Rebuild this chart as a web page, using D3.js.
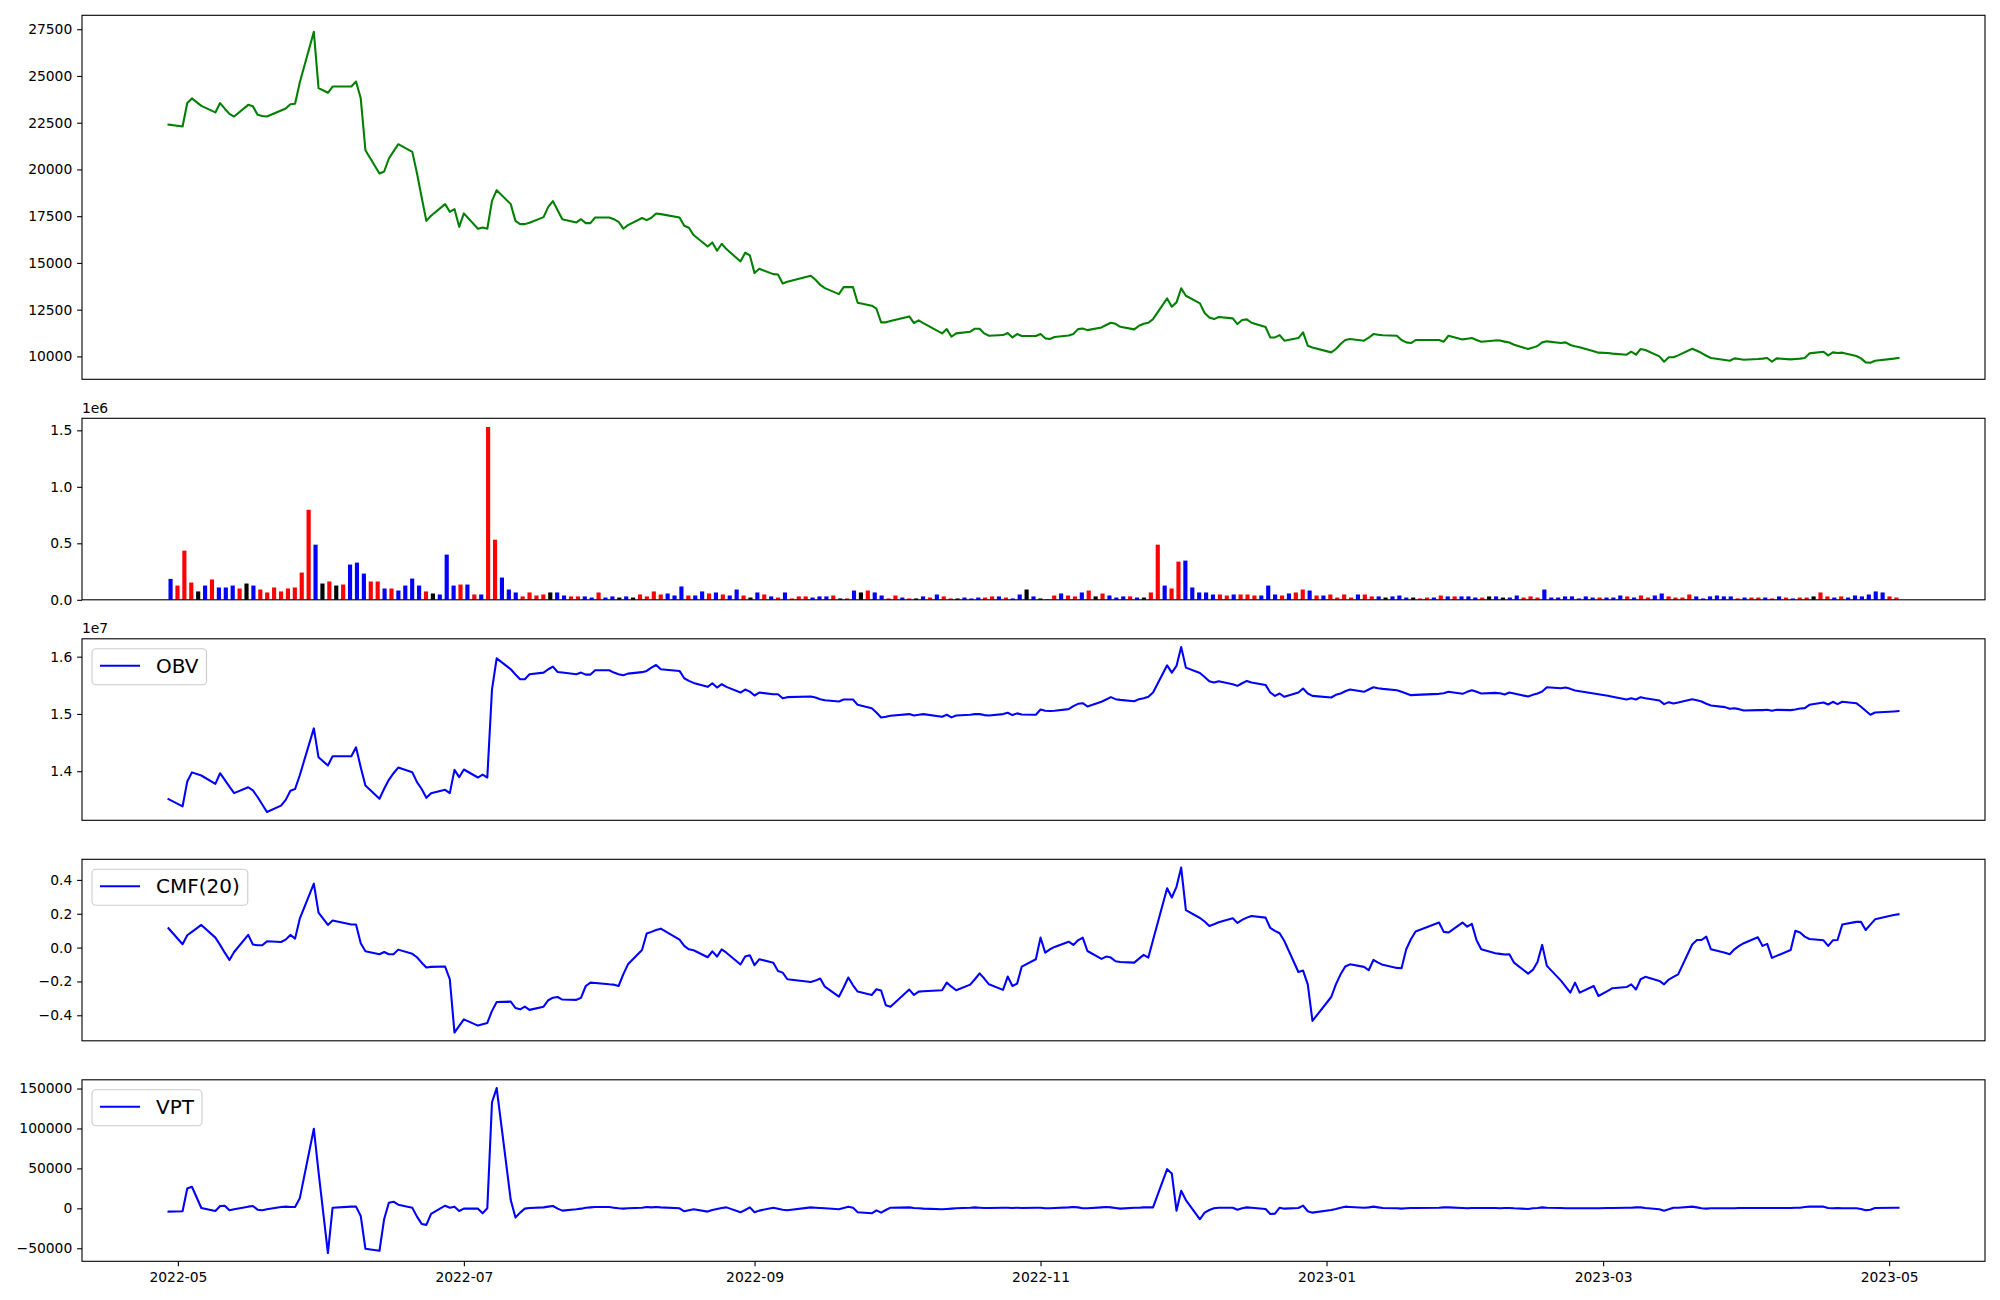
<!DOCTYPE html>
<html><head><meta charset="utf-8">
<script src="https://cdn.jsdelivr.net/npm/d3@7"></script>
<style>body{margin:0;background:#fff}svg{display:block;background:#fff}</style>
</head><body><svg id="chart" width="2000" height="1300"></svg>
<script>
// ---------- data ----------
const startDate = "2022-04-29";
const endDate = "2023-05-03";
const holidays = ["2022-05-05","2022-06-01","2022-06-06","2022-08-15","2022-09-09","2022-09-12",
  "2022-10-03","2022-10-10","2022-12-30","2023-01-23","2023-01-24","2023-03-01","2023-05-01"];

const closePrice = [22400,22300,23550,23800,23400,23050,23550,23250,22970,22830,
23455,23380,22920,22860,22830,23150,23260,23490,23510,24650,
27360,24350,24100,24435,24435,24700,23810,21030,19785,19890,
20585,20970,21350,20940,19800,18500,17250,17520,18145,17735,
17880,16930,17650,16830,16900,16830,18320,18890,18145,17250,
17075,17075,17150,17450,18000,18305,17820,17340,17165,17340,
17130,17130,17430,17430,17340,17200,16830,17020,17400,17290,
17415,17645,17610,17430,16985,16880,16490,15880,16095,15650,
16025,15740,15080,15545,15400,14455,14690,14400,14385,13900,
13990,14310,14100,13830,13650,13330,13705,13705,13705,12870,
12710,12550,11820,11820,11890,12140,11785,11925,11780,11230,
11460,11050,11230,11320,11480,11480,11230,11105,11140,11250,
11015,11195,11090,11090,11195,10965,10930,11035,11120,11195,
11460,11495,11405,11550,11680,11800,11745,11585,11445,11640,
11745,11800,11995,13100,12655,12890,13640,13245,12835,12320,
12085,11995,12105,12035,11730,11945,11980,11800,11570,11015,
11015,11140,10840,10980,11285,10570,10480,10215,10395,10660,
10875,10930,10840,11000,11195,11160,11130,11105,10875,10750,
10715,10875,10875,10785,11105,10910,10945,10980,10875,10785,
10855,10850,10790,10740,10620,10395,10470,10555,10750,10805,
10715,10750,10610,10540,10485,10270,10200,10180,10150,10090,
10250,10090,10395,10340,10000,9715,9950,9950,10055,10410,
10300,10180,10035,9915,9805,9770,9895,9860,9825,9860,
9880,9915,9715,9895,9840,9860,9880,9915,10160,10250,
10055,10215,10180,10200,10020,9895,9680,9660,9770,9880,
9915];

const volume = [185000,126000,435000,153000,74000,126000,180000,109000,109000,126000,
100000,144000,126000,91000,65000,109000,74000,100000,109000,241000,
797000,488000,144000,162000,126000,135000,312000,329000,232000,162000,
162000,100000,100000,82000,126000,188000,126000,74000,56000,47000,
400000,126000,135000,135000,47000,47000,1530000,532000,197000,91000,
65000,30000,65000,38000,47000,65000,65000,38000,30000,30000,
30000,20000,65000,20000,30000,20000,30000,20000,47000,30000,
74000,47000,56000,38000,118000,38000,38000,
74000,56000,65000,47000,38000,91000,38000,20000,65000,47000,
30000,20000,65000,12000,30000,30000,20000,30000,30000,38000,
12000,12000,82000,65000,82000,65000,38000,12000,38000,20000,
12000,12000,30000,20000,47000,30000,12000,12000,20000,12000,
20000,20000,30000,30000,20000,12000,47000,91000,30000,12000,
6000,38000,56000,38000,30000,65000,82000,30000,56000,38000,
20000,30000,30000,20000,20000,65000,488000,126000,100000,338000,
347000,109000,65000,65000,47000,47000,38000,47000,47000,47000,
38000,38000,126000,47000,38000,56000,65000,91000,82000,38000,
38000,47000,20000,47000,20000,
47000,47000,30000,30000,20000,30000,38000,20000,20000,12000,
20000,20000,38000,30000,30000,30000,30000,20000,20000,30000,
30000,20000,20000,38000,20000,30000,20000,91000,20000,20000,
30000,30000,12000,30000,20000,20000,20000,20000,38000,30000,
20000,38000,20000,38000,56000,30000,20000,20000,47000,30000,
12000,30000,38000,30000,30000,12000,20000,20000,20000,20000,
12000,30000,20000,12000,20000,20000,30000,65000,30000,20000,
30000,20000,38000,30000,47000,74000,65000,30000,20000];

// R = close above open (red), B = below (blue), K = unchanged (black)
const volumeDir = ["B","R","R","R","K","B","R","B","B","B",
"R","K","B","R","R","R","R","R","R","R",
"R","B","K","R","K","R","B","B","B","R",
"R","B","R","B","B","B","B","R","K","B",
"B","B","R","B","R","B","R","R","B","B",
"B","R","R","R","R","K","B","B","R","R",
"B","B","R","B","B","K","B","K","R","R",
"R","R","B","B","B","R","B",
"B","R","B","R","B","B","R","K","B","R",
"B","R","B","R","R","R","B","B","B","R",
"K","R","B","K","R","B","B","R","R","B",
"R","K","B","R","B","R","R","K","B","B",
"B","R","R","B","R","B","B","K","B","K",
"R","R","B","R","R","B","R","K","R","B",
"B","B","R","B","K","R","R","B","R","R",
"B","B","B","B","B","R","R","B","R","R",
"R","B","B","B","R","B","R","R","B","R",
"B","R","R","R","R",
"B","R","R","B","K","B","B","B","K","R",
"R","B","R","B","R","B","B","B","R","K",
"B","K","B","B","R","R","R","B","B","B",
"B","B","B","B","B","R","B","B","B","R",
"B","R","R","B","B","R","R","R","R","B",
"B","B","B","B","B","R","B","R","R","B",
"R","B","R","B","R","R","K","R","R","B",
"R","B","B","B","B","B","B","R","R"];

const obv = [13513000,13386000,13820000,13980000,13925000,13780000,13965000,13850000,13730000,13617000,
13720000,13664000,13550000,13420000,13287000,13400000,13500000,13660000,13690000,13930000,
14748000,14243000,14100000,14261000,14261000,14417000,14070000,13750000,13519000,13693000,
13850000,13965000,14064000,13983000,13810000,13690000,13536000,13617000,13675000,13617000,
14023000,13896000,14030000,13890000,13940000,13890000,15430000,15971000,15780000,15690000,
15606000,15606000,15693000,15722000,15780000,15826000,15733000,15722000,15693000,15722000,
15687000,15687000,15762000,15762000,15722000,15693000,15675000,15704000,15730000,15751000,
15809000,15855000,15780000,15751000,15623000,15577000,15542000,15473000,15536000,15461000,
15519000,15473000,15374000,15426000,15390000,15322000,15374000,15345000,15345000,15275000,
15293000,15304000,15287000,15258000,15240000,15217000,15252000,15252000,15252000,15159000,
15101000,15026000,14939000,14951000,14968000,14997000,14974000,14986000,14997000,14951000,
14986000,14940000,14974000,14986000,14997000,14997000,14980000,14974000,14997000,15020000,
14980000,15010000,14990000,14986000,15078000,15055000,15050000,15055000,15084000,15136000,
15177000,15188000,15130000,15212000,15252000,15293000,15258000,15246000,15223000,15258000,
15275000,15299000,15374000,15849000,15722000,15838000,16168000,15809000,15716000,15646000,
15571000,15548000,15571000,15519000,15490000,15536000,15577000,15548000,15507000,15374000,
15316000,15357000,15299000,15374000,15443000,15357000,15316000,15287000,15333000,15357000,
15397000,15426000,15386000,15426000,15467000,15449000,15438000,15414000,15386000,15357000,
15328000,15333000,15351000,15362000,15386000,15351000,15386000,15414000,15386000,15357000,
15368000,15362000,15339000,15374000,15357000,15304000,15333000,15357000,15391000,15467000,
15449000,15461000,15438000,15409000,15397000,15357000,15345000,15316000,15299000,15252000,
15275000,15252000,15293000,15275000,15235000,15171000,15206000,15183000,15200000,15258000,
15240000,15217000,15177000,15148000,15119000,15090000,15101000,15084000,15061000,15067000,
15067000,15072000,15055000,15072000,15067000,15078000,15096000,15101000,15159000,15200000,
15165000,15212000,15171000,15212000,15188000,15125000,15055000,14986000,15026000,15043000,
15049000];

const cmf = [0.114,0.020,0.073,0.093,0.134,0.059,0.016,-0.030,-0.073,-0.026,
0.075,0.018,0.014,0.014,0.037,0.033,0.047,0.075,0.053,0.171,
0.378,0.207,0.134,0.160,0.136,0.136,0.026,-0.022,-0.039,-0.026,
-0.039,-0.039,-0.012,-0.037,-0.057,-0.089,-0.118,-0.114,-0.112,-0.187,
-0.502,-0.463,-0.424,-0.461,-0.453,-0.445,-0.374,-0.321,-0.319,-0.357,
-0.365,-0.349,-0.368,-0.349,-0.311,-0.296,-0.292,-0.307,-0.309,-0.296,
-0.227,-0.207,-0.209,-0.217,-0.219,-0.227,-0.158,-0.099,-0.014,0.083,
0.093,0.104,0.112,0.047,0.010,-0.010,-0.016,-0.057,-0.022,-0.053,
-0.010,-0.030,-0.100,-0.053,-0.045,-0.104,-0.069,-0.089,-0.138,-0.148,
-0.187,-0.203,-0.195,-0.183,-0.231,-0.290,-0.236,-0.177,-0.223,-0.260,
-0.280,-0.246,-0.254,-0.341,-0.349,-0.248,-0.280,-0.260,-0.258,-0.252,
-0.207,-0.231,-0.252,-0.219,-0.187,-0.152,-0.183,-0.217,-0.250,-0.171,
-0.227,-0.213,-0.112,-0.069,0.059,-0.030,-0.010,0.004,0.035,0.016,
0.043,0.059,-0.020,-0.067,-0.053,-0.059,-0.081,-0.085,-0.089,-0.065,
-0.043,-0.059,0.045,0.351,0.296,0.359,0.473,0.221,0.175,0.154,
0.128,0.138,0.150,0.173,0.146,0.164,0.177,0.187,0.177,0.116,
0.099,0.085,0.039,-0.144,-0.136,-0.217,-0.433,-0.292,-0.217,-0.158,
-0.112,-0.099,-0.114,-0.134,-0.073,-0.089,-0.102,-0.120,-0.122,-0.010,
0.049,0.095,0.148,0.093,0.089,0.148,0.124,0.140,0.043,-0.010,
-0.033,-0.037,-0.041,-0.039,-0.089,-0.154,-0.132,-0.085,0.016,-0.108,
-0.195,-0.231,-0.266,-0.207,-0.266,-0.227,-0.286,-0.256,-0.240,-0.233,
-0.217,-0.248,-0.187,-0.173,-0.197,-0.217,-0.189,-0.173,-0.158,0.018,
0.045,0.045,0.065,-0.010,-0.030,-0.039,-0.010,0.010,0.026,0.061,
0.010,0.022,-0.061,-0.049,-0.014,0.099,0.089,0.065,0.051,0.043,
0.010,0.043,0.045,0.136,0.152,0.152,0.104,0.136,0.167,0.193,
0.197];

const vpt = [-4150,-3700,24900,27000,400,-3300,2900,3300,-2500,-1200,
2100,2900,-1700,-2500,-1200,1700,2100,1700,1700,12500,
99600,45600,-56000,800,2100,2100,-9500,-50600,-53100,-13300,
7000,8300,4600,800,-10400,-19500,-20700,-7000,3300,800,
2100,-3300,-400,-400,-6200,0,132800,150600,10400,-11600,
-5400,-400,400,1200,2100,2900,-400,-2900,-1200,-400,
800,1200,1700,1700,800,0,-400,0,800,1700,
1200,1700,1200,0,-3700,-2500,-1200,-4100,-2100,-800,
400,1200,-5000,-2100,1200,-5000,-2900,800,-400,-1700,
-2500,1200,800,400,0,-1200,400,2100,800,-5000,
-6200,-2500,-5400,-2100,800,1200,400,0,-400,-1200,
-800,-400,0,800,1200,800,400,400,800,800,
400,800,400,800,800,0,0,400,1200,1700,
1200,0,0,1200,1700,1200,400,-400,800,800,
1200,1200,1200,49000,43600,-2900,22000,10400,-13700,-5400,
-2100,0,800,800,-1700,0,1200,800,-800,-7000,
-6600,800,-400,400,3300,-3700,-5400,-2100,-800,800,
2100,1700,800,1200,2100,1200,400,0,-400,0,
400,400,800,1200,1200,400,0,400,400,400,
400,0,400,400,0,-800,0,400,1200,800,
400,0,0,0,0,0,0,400,400,800,
800,1200,1200,400,-1200,-2900,-1200,800,800,2100,
1200,0,-400,0,0,0,0,400,400,400,
400,400,400,400,400,800,800,1700,2100,2100,
400,0,400,0,0,-800,-2500,-1700,400,800,
800];

const xTickLabels = ["2022-05","2022-07","2022-09","2022-11","2023-01","2023-03","2023-05"];
const priceTicks = [10000,12500,15000,17500,20000,22500,25000,27500];
const volumeTicks = [0,500000,1000000,1500000];
const obvTicks = [14000000,15000000,16000000];
const cmfTicks = [-0.4,-0.2,0,0.2,0.4];
const vptTicks = [-50000,0,50000,100000,150000];

// ---------- layout ----------
const FONT = "DejaVu Sans";
const TICKFS = 13.89;
const L = 82, R = 1985;
const panels = [
  {top:15.3, bottom:379.3},
  {top:418.3, bottom:599.8},
  {top:638.8, bottom:820.3},
  {top:859.3, bottom:1040.8},
  {top:1079.8, bottom:1261.3}
];
const svg = d3.select("#chart");

const parse = d3.timeParse("%Y-%m-%d");
const fmt = d3.timeFormat("%Y-%m-%d");
const hol = new Set(holidays);
const allDates = d3.timeDay.range(parse(startDate), d3.timeDay.offset(parse(endDate), 1))
  .filter(d => d.getDay() % 6 !== 0 && !hol.has(fmt(d)));
const N = Math.min(allDates.length, closePrice.length, volume.length, obv.length, cmf.length, vpt.length);
const dates = allDates.slice(0, N);

const t0 = +dates[0], t1 = +dates[N - 1], span = t1 - t0;
const x = d3.scaleTime().domain([new Date(t0 - 0.05 * span), new Date(t1 + 0.05 * span)]).range([L, R]);

// volume panel is drawn against the bar sequence number
const BARW = 0.6;
const vSpan = (N - 1) + BARW;
const xi = d3.scaleLinear()
  .domain([-BARW / 2 - 0.05 * vSpan, (N - 1) + BARW / 2 + 0.05 * vSpan]).range([L, R]);

function yScale(vals, p, zeroBottom) {
  let lo = d3.min(vals), hi = d3.max(vals);
  if (zeroBottom) { lo = 0; hi = hi * 1.05; }
  else { const m = (hi - lo) * 0.05; lo -= m; hi += m; }
  return d3.scaleLinear().domain([lo, hi]).range([p.bottom, p.top]);
}

function yAxis(y, p, ticks, f) {
  const g = svg.append("g").attr("transform", `translate(${L},0)`)
    .call(d3.axisLeft(y).tickValues(ticks).tickFormat(f).tickSize(4.86).tickPadding(4.86).tickSizeOuter(0));
  g.select(".domain").remove();
  g.attr("font-family", FONT).attr("font-size", TICKFS);
  g.selectAll(".tick line").attr("stroke", "#000").attr("stroke-width", 1.1);
  g.selectAll(".tick text").attr("fill", "#000");
}

function frame(p) {
  svg.append("rect").attr("x", L).attr("y", p.top).attr("width", R - L).attr("height", p.bottom - p.top)
    .attr("fill", "none").attr("stroke", "#000").attr("stroke-width", 1.1);
}

function drawLine(vals, y, color) {
  const line = d3.line().x((d, i) => x(dates[i])).y(d => y(d)).curve(d3.curveLinear);
  svg.append("path").datum(vals.slice(0, N)).attr("d", line)
    .attr("fill", "none").attr("stroke", color).attr("stroke-width", 2.08)
    .attr("stroke-linejoin", "round").attr("stroke-linecap", "square");
}

function legend(p, label) {
  const fs = 20;
  const bx = L + 10, by = p.top + 10;
  const g = svg.append("g");
  const rect = g.append("rect");
  g.append("line").attr("x1", bx + 8).attr("x2", bx + 48).attr("y1", by + 17).attr("y2", by + 17)
    .attr("stroke", "#0000ff").attr("stroke-width", 2.08);
  const txt = g.append("text").attr("x", bx + 64).attr("y", by + 23.8)
    .attr("font-family", FONT).attr("font-size", fs).attr("fill", "#000").text(label);
  const w = txt.node().getComputedTextLength();
  rect.attr("x", bx).attr("y", by).attr("width", 64 + w + 8).attr("height", 36).attr("rx", 4)
    .attr("fill", "#fff").attr("fill-opacity", 0.8).attr("stroke", "#cccccc").attr("stroke-width", 1.1);
}

function offsetText(p, s) {
  svg.append("text").attr("x", L).attr("y", p.top - 5.5).attr("font-family", FONT)
    .attr("font-size", TICKFS).attr("fill", "#000").text(s);
}

// ---------- panel 1: price ----------
{
  const p = panels[0];
  const y = yScale(closePrice.slice(0, N), p, false);
  drawLine(closePrice, y, "#008000");
  yAxis(y, p, priceTicks, d3.format("d"));
  frame(p);
}
// ---------- panel 2: volume ----------
{
  const p = panels[1];
  const y = yScale(volume.slice(0, N), p, true);
  const colorOf = {R: "#ff0000", B: "#0000ff", K: "#000000"};
  svg.append("g").selectAll("rect").data(volume.slice(0, N)).join("rect")
    .attr("x", (d, i) => xi(i - BARW / 2))
    .attr("width", xi(BARW) - xi(0))
    .attr("y", d => y(d)).attr("height", d => y(0) - y(d))
    .attr("fill", (d, i) => colorOf[volumeDir[i]] || "#000");
  yAxis(y, p, volumeTicks, d => (d / 1e6).toFixed(1));
  offsetText(p, "1e6");
  frame(p);
}
// ---------- panel 3: OBV ----------
{
  const p = panels[2];
  const y = yScale(obv.slice(0, N), p, false);
  drawLine(obv, y, "#0000ff");
  yAxis(y, p, obvTicks, d => (d / 1e7).toFixed(1));
  offsetText(p, "1e7");
  legend(p, "OBV");
  frame(p);
}
// ---------- panel 4: CMF ----------
{
  const p = panels[3];
  const y = yScale(cmf.slice(0, N), p, false);
  drawLine(cmf, y, "#0000ff");
  yAxis(y, p, cmfTicks, d3.format(".1f"));
  legend(p, "CMF(20)");
  frame(p);
}
// ---------- panel 5: VPT ----------
{
  const p = panels[4];
  const y = yScale(vpt.slice(0, N), p, false);
  drawLine(vpt, y, "#0000ff");
  yAxis(y, p, vptTicks, d3.format("d"));
  legend(p, "VPT");
  frame(p);
  const tickDates = xTickLabels.map(s => d3.timeParse("%Y-%m")(s));
  const g = svg.append("g").attr("transform", `translate(0,${p.bottom})`)
    .call(d3.axisBottom(x).tickValues(tickDates).tickFormat(d3.timeFormat("%Y-%m")).tickSize(4.86).tickPadding(4.86).tickSizeOuter(0));
  g.select(".domain").remove();
  g.attr("font-family", FONT).attr("font-size", TICKFS);
  g.selectAll(".tick line").attr("stroke", "#000").attr("stroke-width", 1.1);
  g.selectAll(".tick text").attr("fill", "#000").attr("dy", "0.78em");
}
</script>
</body></html>
